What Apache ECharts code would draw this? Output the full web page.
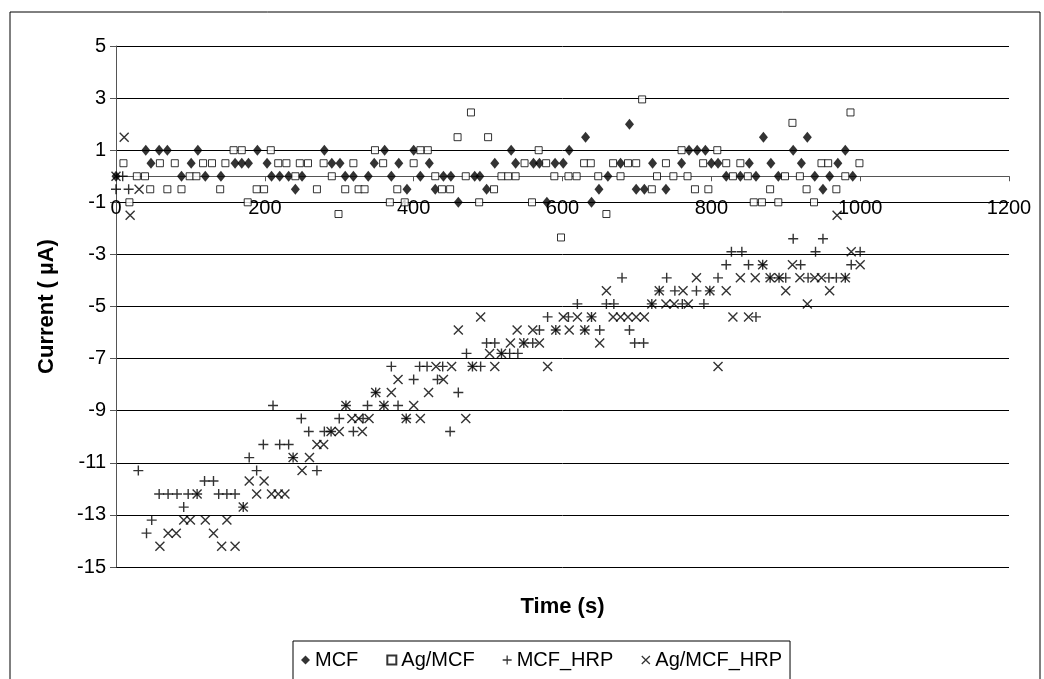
<!DOCTYPE html>
<html>
<head>
<meta charset="utf-8">
<script src="https://cdn.jsdelivr.net/npm/echarts@6/dist/echarts.min.js"></script>
<style>
  html, body { margin: 0; padding: 0; background: #fff; }
  #chart { width: 1044px; height: 679px; }
</style>
</head>
<body>
<div id="chart"></div>
<script>
// Axis ticks
const xTicks = { min: 0, max: 1200, step: 200 };
const yTicks = { min: -15, max: 5, step: 2 };

// Series names
const seriesNames = ['MCF', 'Ag/MCF', 'MCF_HRP', 'Ag/MCF_HRP'];

// MCF electrode without enzyme: time (s) and current (µA)
const mcfTime = [0,40,47,58,69,88,101,110,120,141,160,169,178,190,203,209,220,232,241,250,280,290,301,308,319,339,347,361,370,380,391,400,409,421,429,440,450,460,482,489,498,509,531,537,561,569,579,590,601,609,631,639,649,661,678,690,699,710,721,739,760,770,781,792,800,809,820,839,851,860,870,880,890,910,921,929,939,950,959,970,980,990];
const mcfCurrent = [0,1,0.5,1,1,0,0.5,1,0,0,0.5,0.5,0.5,1,0.5,0,0,0,-0.5,0,1,0.5,0.5,0,0,0,0.5,1,0,0.5,-0.5,1,0,0.5,-0.5,0,0,-1,0,0,-0.5,0.5,1,0.5,0.5,0.5,-1,0.5,0.5,1,1.5,-1,-0.5,0,0.5,2,-0.5,-0.5,0.5,-0.5,0.5,1,1,1,0.5,0.5,0,0,0.5,0,1.5,0.5,0,1,0.5,1.5,0,-0.5,0,0.5,1,0];

// Ag/MCF electrode without enzyme
const agMcfTime = [10,18,28,39,46,59,69,79,88,99,108,117,129,140,147,158,169,177,189,199,208,218,229,241,247,258,270,279,290,299,308,319,326,334,348,359,368,378,388,400,409,419,429,438,449,459,470,477,488,500,508,518,527,537,549,559,568,578,589,598,608,619,629,638,648,659,668,678,688,699,707,720,727,739,749,760,768,778,789,796,808,820,829,839,849,857,868,879,890,899,909,919,928,938,948,957,968,980,987,999];
const agMcfCurrent = [0.5,-1,0,0,-0.5,0.5,-0.5,0.5,-0.5,0,0,0.5,0.5,-0.5,0.5,1,1,-1,-0.5,-0.5,1,0.5,0.5,0,0.5,0.5,-0.5,0.5,0,-1.45,-0.5,0.5,-0.5,-0.5,1,0.5,-1,-0.5,-1,0.5,1,1,0,-0.5,-0.5,1.5,0,2.45,-1,1.5,-0.5,0,0,0,0.5,-1,1,0.5,0,-2.35,0,0,0.5,0.5,0,-1.45,0.5,0,0.5,0.5,2.95,-0.5,0,0.5,0,1,0,-0.5,0.5,-0.5,1,0.5,0,0.5,0,-1,-1,-0.5,-1,0,2.05,0,-0.5,-1,0.5,0.5,-0.5,0,2.45,0.5];

// MCF electrode with HRP
const mcfHrpTime = [0,9,17,30,41,48,58,70,82,91,97,109,119,131,138,149,160,171,179,189,198,211,220,232,238,249,259,270,280,289,300,309,319,332,338,349,360,370,379,390,400,408,418,432,439,449,460,471,479,490,498,509,518,529,540,548,560,569,580,591,608,620,630,639,650,659,669,680,690,697,709,720,730,740,751,761,780,790,798,809,820,827,841,850,860,869,879,891,900,910,920,930,940,950,958,968,980,988,1000];
const mcfHrpCurrent = [-0.5,0,-0.5,-11.3,-13.7,-13.2,-12.2,-12.2,-12.2,-12.7,-12.2,-12.2,-11.7,-11.7,-12.2,-12.2,-12.2,-12.7,-10.8,-11.3,-10.3,-8.8,-10.3,-10.3,-10.8,-9.3,-9.8,-11.3,-9.8,-9.8,-9.3,-8.8,-9.8,-9.3,-8.8,-8.3,-8.8,-7.3,-8.8,-9.3,-7.8,-7.3,-7.3,-7.8,-7.3,-9.8,-8.3,-6.8,-7.3,-7.3,-6.4,-6.4,-6.8,-6.8,-6.8,-6.4,-6.4,-5.9,-5.4,-5.9,-5.4,-4.9,-5.9,-5.4,-5.9,-4.9,-4.9,-3.9,-5.9,-6.4,-6.4,-4.9,-4.4,-3.9,-4.4,-4.9,-4.4,-4.9,-4.4,-3.9,-3.4,-2.9,-2.9,-3.4,-5.4,-3.4,-3.9,-3.9,-3.9,-2.4,-3.4,-3.9,-2.9,-2.4,-3.9,-3.9,-3.9,-3.4,-2.9];

// Ag/MCF electrode with HRP
const agMcfHrpTime = [0,11,19,31,59,70,81,91,100,109,120,131,142,149,160,171,179,189,199,209,218,227,238,250,260,270,279,289,300,309,317,326,331,340,349,360,370,379,390,400,409,420,430,440,451,460,470,479,490,502,509,518,530,539,548,560,569,580,591,601,609,620,630,639,650,659,668,678,688,699,710,720,730,739,750,762,769,780,798,809,820,829,839,850,859,869,879,891,900,909,919,929,939,948,959,969,980,988,1000];
const agMcfHrpCurrent = [0,1.5,-1.5,-0.5,-14.2,-13.7,-13.7,-13.2,-13.2,-12.2,-13.2,-13.7,-14.2,-13.2,-14.2,-12.7,-11.7,-12.2,-11.7,-12.2,-12.2,-12.2,-10.8,-11.3,-10.8,-10.3,-10.3,-9.8,-9.8,-8.8,-9.3,-9.3,-9.8,-9.3,-8.3,-8.8,-8.3,-7.8,-9.3,-8.8,-9.3,-8.3,-7.3,-7.8,-7.3,-5.9,-9.3,-7.3,-5.4,-6.8,-7.3,-6.8,-6.4,-5.9,-6.4,-5.9,-6.4,-7.3,-5.9,-5.4,-5.9,-5.4,-5.9,-5.4,-6.4,-4.4,-5.4,-5.4,-5.4,-5.4,-5.4,-4.9,-4.4,-4.9,-4.9,-4.4,-4.9,-3.9,-4.4,-7.3,-4.4,-5.4,-3.9,-5.4,-3.9,-3.4,-3.9,-3.9,-4.4,-3.4,-3.9,-4.9,-3.9,-3.9,-4.4,-1.5,-3.9,-2.9,-3.4];

// Marker shapes: filled plus and diagonal cross outlines
const plusPath = 'path://M4.3,0H5.7V4.3H10V5.7H5.7V10H4.3V5.7H0V4.3H4.3Z';
const crossPath = 'path://M0,1L1,0L10,9L9,10Z M9,0L10,1L1,10L0,9Z';

const pairs = (t, v) => t.map((x, i) => [x, v[i]]);
const plain = v => String(v);

const FONT = '"Liberation Sans", Arial, sans-serif';

// Plot area in pixels; the time axis is lifted from the bottom edge to the zero line
const GRID = { left: 116, right: 35, top: 46, bottom: 112 };
const plotHeight = 679 - GRID.top - GRID.bottom;
const zeroLift = plotHeight * (0 - yTicks.min) / (yTicks.max - yTicks.min);

const chart = echarts.init(document.getElementById('chart'), null, { renderer: 'canvas' });

chart.setOption({
  animation: false,
  backgroundColor: '#fff',
  textStyle: { fontFamily: FONT, color: '#000' },
  graphic: [{
    type: 'rect',
    silent: true,
    z: -10,
    shape: { x: 10, y: 12, width: 1030, height: 720 },
    style: { fill: null, stroke: '#000', lineWidth: 1 }
  }],
  grid: Object.assign({ containLabel: false, outerBoundsMode: 'none' }, GRID),
  legend: {
    data: seriesNames,
    left: 293,
    top: 641,
    orient: 'horizontal',
    itemWidth: 9,
    itemHeight: 9,
    itemGap: 28,
    padding: [9, 8, 20, 8],
    borderColor: '#000',
    borderWidth: 1,
    backgroundColor: '#fff',
    textStyle: { fontSize: 20, color: '#000', fontFamily: FONT }
  },
  xAxis: {
    type: 'value',
    position: 'bottom',
    offset: -zeroLift,
    min: xTicks.min,
    max: xTicks.max,
    interval: xTicks.step,
    name: 'Time (s)',
    nameLocation: 'middle',
    nameGap: 420,
    nameTextStyle: { fontSize: 22, fontWeight: 'bold', color: '#000', fontFamily: FONT },
    axisLine: { onZero: false, lineStyle: { color: '#555', width: 1 } },
    axisTick: { show: true, length: 5, lineStyle: { color: '#555' } },
    axisLabel: { fontSize: 20, color: '#000', margin: 22, fontFamily: FONT, formatter: plain },
    splitLine: { show: false }
  },
  yAxis: {
    type: 'value',
    min: yTicks.min,
    max: yTicks.max,
    interval: yTicks.step,
    name: 'Current ( µA)',
    nameLocation: 'middle',
    nameRotate: 90,
    nameGap: 58,
    nameTextStyle: { fontSize: 22, fontWeight: 'bold', color: '#000', fontFamily: FONT },
    axisLine: { show: true, onZero: false, lineStyle: { color: '#555', width: 1 } },
    axisTick: { show: true, length: 6, lineStyle: { color: '#555' } },
    axisLabel: { fontSize: 20, color: '#000', margin: 10, fontFamily: FONT, formatter: plain },
    splitLine: { show: true, lineStyle: { color: '#000', width: 1 } }
  },
  series: [
    {
      name: seriesNames[0],
      type: 'scatter',
      symbol: 'diamond',
      symbolSize: [9, 11],
      itemStyle: { color: '#000' },
      data: pairs(mcfTime, mcfCurrent)
    },
    {
      name: seriesNames[1],
      type: 'scatter',
      symbol: 'rect',
      symbolSize: 7,
      itemStyle: { color: '#fff', borderColor: '#000', borderWidth: 1 },
      data: pairs(agMcfTime, agMcfCurrent)
    },
    {
      name: seriesNames[2],
      type: 'scatter',
      symbol: plusPath,
      symbolSize: 10,
      itemStyle: { color: '#000' },
      data: pairs(mcfHrpTime, mcfHrpCurrent)
    },
    {
      name: seriesNames[3],
      type: 'scatter',
      symbol: crossPath,
      symbolSize: 10,
      itemStyle: { color: '#000' },
      data: pairs(agMcfHrpTime, agMcfHrpCurrent)
    }
  ]
});
</script>
</body>
</html>
